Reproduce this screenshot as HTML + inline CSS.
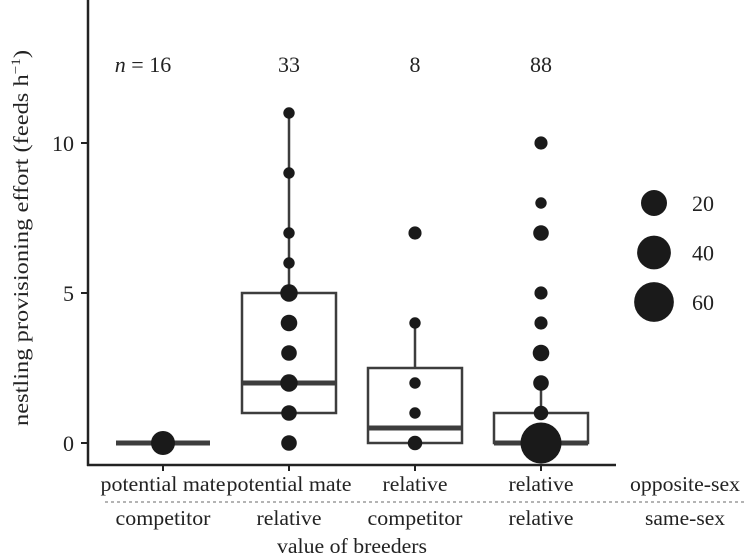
<!DOCTYPE html>
<html><head><meta charset="utf-8"><style>
html,body{margin:0;padding:0;background:#fff;}
svg{display:block;font-family:"Liberation Serif",serif;}
</style></head><body>
<svg id="chart" width="747" height="560" viewBox="0 0 747 560">
<g id="plot"></g>
<text x="0" y="0" transform="translate(28,238) rotate(-90)" text-anchor="middle" font-size="21" fill="#222" textLength="376" lengthAdjust="spacingAndGlyphs">nestling provisioning effort (feeds h<tspan font-size="13" dy="-8">−1</tspan><tspan dy="8">)</tspan></text>
<line x1="105" x2="747" y1="502" y2="502" stroke="#888" stroke-width="1.3" stroke-dasharray="3,3"/>
<text x="685" y="491" text-anchor="middle" font-size="21" fill="#222" textLength="110" lengthAdjust="spacingAndGlyphs">opposite-sex</text>
<text x="685" y="525" text-anchor="middle" font-size="21" fill="#222" textLength="80" lengthAdjust="spacingAndGlyphs">same-sex</text>
<text x="352" y="553" text-anchor="middle" font-size="21" fill="#222" textLength="150" lengthAdjust="spacingAndGlyphs">value of breeders</text>
</svg>
<script>
const categories = ["g1","g2","g3","g4"];
const nLabels = ["n = 16","33","8","88"];
const topLabels = ["potential mate","potential mate","relative","relative"];
const bottomLabels = ["competitor","relative","competitor","relative"];
const q1 = [0,1,0,0];
const med = [0,2,0.5,0];
const q3 = [0,5,2.5,1];
const whiskLo = [0,0,0,0];
const whiskHi = [0,11,4,2];
const ptGroup = [0, 1,1,1,1,1,1,1,1,1,1, 2,2,2,2,2, 3,3,3,3,3,3,3,3,3];
const ptValue = [0, 11,9,7,6,5,4,3,2,1,0, 7,4,2,1,0, 10,8,7,5,4,3,2,1,0];
const ptCount = [16, 1,1,1,1,6,5,4,6,4,4, 2,1,1,1,3, 2,1,4,2,2,5,4,3,65];
const legendCounts = [20,40,60];
const yTicks = [0,5,10];

const NS="http://www.w3.org/2000/svg";
const g=document.getElementById('plot');
const xs = i => 163 + i*126;
const ys = v => 443 - v*30;
const rs = n => 3.6 + 2.1*Math.sqrt(n);
const labW = {"potential mate":125,"relative":65,"competitor":95};
function mk(tag, attrs){const e=document.createElementNS(NS,tag);for(const k in attrs)e.setAttribute(k,attrs[k]);g.appendChild(e);return e;}
const col="#3d3d3d";
categories.forEach((c,i)=>{
  const cx=xs(i), hw=47;
  if(whiskHi[i]>q3[i]){
    const w=mk('line',{x1:cx,x2:cx,y1:ys(q3[i]),y2:ys(whiskHi[i]),stroke:col,'stroke-width':2.5});
    
    
  }
  const b=mk('rect',{x:cx-hw,y:ys(q3[i]),width:hw*2,height:Math.max(0,ys(q1[i])-ys(q3[i])),fill:'none',stroke:col,'stroke-width':2.5});
  
  
  const m=mk('line',{x1:cx-hw,x2:cx+hw,y1:ys(med[i]),y2:ys(med[i]),stroke:col,'stroke-width':5});
  
  
});
ptValue.forEach((v,j)=>{
  const p=mk('circle',{cx:xs(ptGroup[j]),cy:ys(v),r:rs(ptCount[j]),fill:'#1a1a1a'});
  
  
});
let a=mk('line',{x1:88,x2:88,y1:0,y2:466,stroke:'#222','stroke-width':2.5});


a=mk('line',{x1:87,x2:616,y1:465,y2:465,stroke:'#222','stroke-width':2.5});


yTicks.forEach(t=>{
  const tk=mk('line',{x1:81,x2:88,y1:ys(t),y2:ys(t),stroke:'#222','stroke-width':2});
  
  
  const tl=mk('text',{x:74,y:ys(t)+8,'text-anchor':'end','font-size':22,fill:'#222'});
  tl.textContent=t;
  
  
});
categories.forEach((c,i)=>{
  const cx=xs(i);
  const tk=mk('line',{x1:cx,x2:cx,y1:465,y2:471,stroke:'#222','stroke-width':2});
  
  
  const n=mk('text',{x:i===0?143:cx,y:72,'text-anchor':'middle','font-size':22,fill:'#222'});
  if(i===0){n.innerHTML='<tspan font-style="italic">n</tspan> = 16';}else{n.textContent=nLabels[i];}
  
  
  const t=mk('text',{x:cx,y:491,'text-anchor':'middle','font-size':21,fill:'#222',textLength:labW[topLabels[i]],lengthAdjust:'spacingAndGlyphs'});
  t.textContent=topLabels[i];
  
  
  const bt=mk('text',{x:cx,y:525,'text-anchor':'middle','font-size':21,fill:'#222',textLength:labW[bottomLabels[i]],lengthAdjust:'spacingAndGlyphs'});
  bt.textContent=bottomLabels[i];
  
  
});
legendCounts.forEach((n,k)=>{
  const cy=203+k*49.5;
  const c=mk('circle',{cx:654,cy:cy,r:rs(n),fill:'#1a1a1a'});
  
  
  const t=mk('text',{x:692,y:cy+8,'font-size':22,fill:'#222'});
  t.textContent=n;
  
  
});
</script>
</body></html>
